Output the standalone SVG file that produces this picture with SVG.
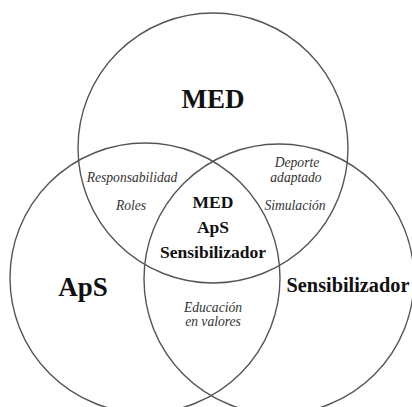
<svg xmlns="http://www.w3.org/2000/svg" width="412" height="407" viewBox="0 0 412 407">
<style>
.c{fill:none;stroke:#555;stroke-width:1.4}
.b{font-family:'Liberation Serif','Times New Roman',Times,'DejaVu Serif',serif;font-weight:bold;fill:#111;text-anchor:middle}
.i{font-family:'Liberation Serif','Times New Roman',Times,'DejaVu Serif',serif;font-style:italic;fill:#333;text-anchor:middle;font-size:13.6px}
</style>
<rect width="412" height="407" fill="#fff"/>
<g id="connectors"></g>
<g id="med"><circle class="c" cx="213" cy="148" r="135"/><text class="b" x="213" y="108" font-size="27">MED</text></g>
<g id="aps"><circle class="c" cx="145" cy="278" r="135"/><text class="b" x="83" y="296" font-size="27">ApS</text></g>
<g id="sens"><circle class="c" cx="279" cy="279" r="135"/><text class="b" x="348" y="292" font-size="20.3">Sensibilizador</text></g>
<g id="center"><text class="b" font-size="17.5"><tspan x="213" y="208">MED</tspan><tspan x="213" y="233">ApS</tspan><tspan x="213" y="258">Sensibilizador</tspan></text></g>
<g id="med-aps"><text class="i"><tspan x="132" y="182">Responsabilidad</tspan><tspan x="131" y="210">Roles</tspan></text></g>
<g id="med-sens"><text class="i"><tspan x="297" y="167">Deporte</tspan><tspan x="296" y="182">adaptado</tspan><tspan x="295" y="210">Simulación</tspan></text></g>
<g id="aps-sens"><text class="i"><tspan x="213" y="312">Educación</tspan><tspan x="213" y="326">en valores</tspan></text></g>
</svg>
